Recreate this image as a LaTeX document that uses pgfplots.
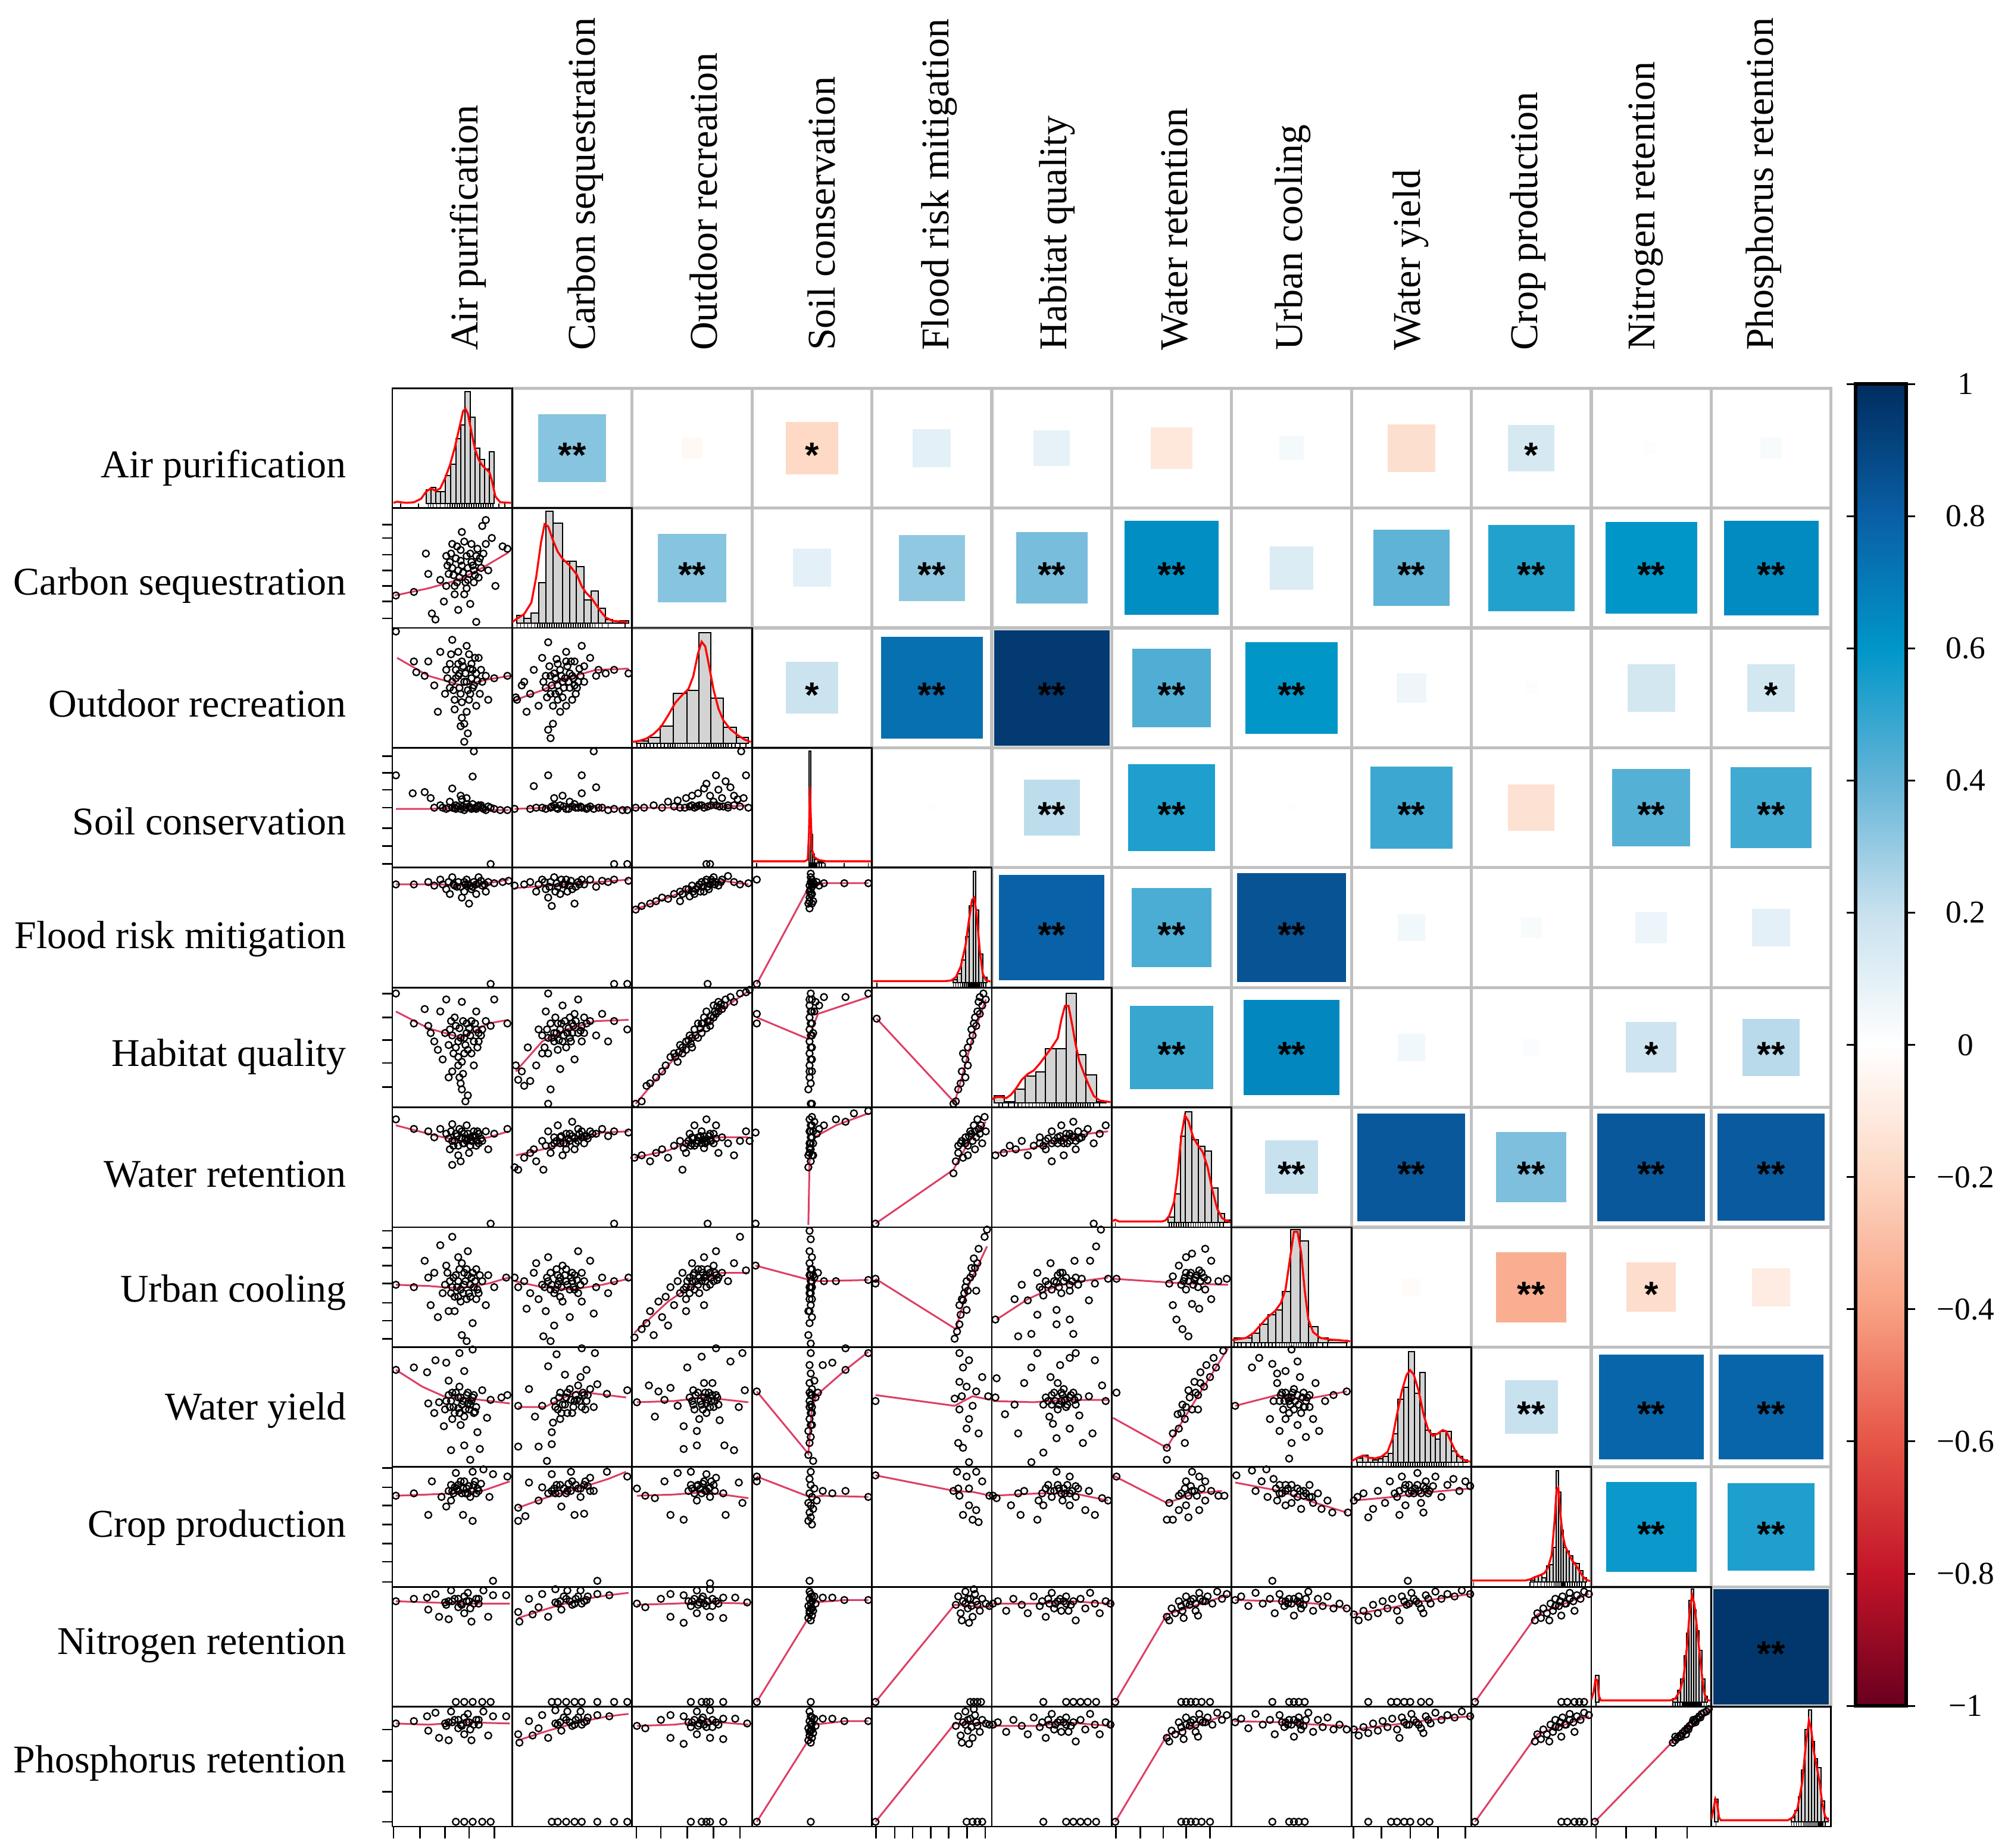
\documentclass[border=0pt]{standalone}
\usepackage{fontspec}
\setmainfont{Liberation Serif}
\newfontfamily\sansf{Liberation Sans}
\usepackage{pgfplots}
\pgfplotsset{compat=1.18}

\definecolor{cgray}{RGB}{192,192,192}
\definecolor{barfill}{RGB}{211,211,211}
\definecolor{lowesscol}{RGB}{222,62,100}
\def\cw{30.21pt}
\newcommand\labfont{\fontsize{9.9}{11}\selectfont}

\pgfplotsset{
  diag/.style={width=\cw,height=\cw,scale only axis,anchor=south west,
    xmin=0,xmax=100,ymin=-4,ymax=100,xtick=\empty,ytick=\empty,
    axis line style={line width=0.4pt}},
  hbar/.style={ybar interval,fill=barfill,draw=black,line width=0.3pt},
  dens/.style={red,line width=0.5pt,no marks},
  rug/.style={only marks,mark=|,mark size=0.6pt,line width=0.25pt,black},
  lowess/.style={lowesscol,line width=0.45pt,no marks},
}
\tikzset{
  frame/.style={black,line width=0.4pt},
  cgrid/.style={cgray,line width=0.8pt},
  tk/.style={black,line width=0.4pt},
}

% scatter panel: column, row, points (0-100 inside the panel)
\newcommand\sct[3]{\addplot[only marks,mark=o,mark size=0.85pt,line width=0.35pt,black]
  table[header=false,row sep=\\,x expr=\thisrowno{0}/100+#1-1,y expr=\thisrowno{1}/100+12-#2]{#3};}
\newcommand\lo[3]{\addplot[lowess]
  table[header=false,row sep=\\,x expr=\thisrowno{0}/100+#1-1,y expr=\thisrowno{1}/100+12-#2]{#3};}
\newcommand\diag[2]{\begin{axis}[diag,at={({(#1-1)*\cw},{(12-#1)*\cw})}]#2\end{axis}}

\begin{document}
\begin{tikzpicture}
\useasboundingbox (-98.85pt,-5.4pt) rectangle (407.1pt,460.35pt);
\begin{axis}[
  at={(0,0)}, anchor=south west,
  width=362.52pt, height=362.52pt, scale only axis,
  xmin=0, xmax=12, ymin=0, ymax=12,
  axis line style={draw=none}, xtick=\empty, ytick=\empty,
  clip=false,
  colormap={corr}{rgb255=(105,0,30) rgb255=(195,20,40) rgb255=(230,85,70)
    rgb255=(248,160,130) rgb255=(253,215,195) rgb255=(255,255,255)
    rgb255=(200,225,238) rgb255=(100,180,215) rgb255=(0,150,200)
    rgb255=(10,95,165) rgb255=(0,45,95)},
  point meta min=-1, point meta max=1,
  colorbar,
  colorbar shift/.style={xshift=6.15pt,yshift=1.05pt},
  colorbar style={
    at={(parent axis.north east)}, anchor=north west,
    scale only axis, width=12.75pt, height=333.15pt,
    ytick={-1,-0.8,-0.6,-0.4,-0.2,0,0.2,0.4,0.6,0.8,1},
    yticklabels={−1,−0.8,−0.6,−0.4,−0.2,0,0.2,0.4,0.6,0.8,1},
    yticklabel style={font=\fontsize{8}{9}\selectfont,anchor=center,xshift=12.75pt},
    tick align=outside, major tick length=2.25pt,
    ytick style={line width=0.45pt,black},
    axis line style={line width=0.9pt,black},
  },
]
% grey grid of the upper triangle
\draw[cgrid] (axis cs:1,12) -- (axis cs:12,12) -- (axis cs:12,1);
\pgfplotsinvokeforeach{1,...,11}{
  \draw[cgrid] (axis cs:#1,{12-#1}) -- (axis cs:12,{12-#1});
  \draw[cgrid] (axis cs:#1,12) -- (axis cs:#1,{12-#1});
}
% correlation squares
\addplot[scatter, only marks, mark=square*, scatter src=explicit,
  scatter/use mapped color={draw=mapped color,fill=mapped color},
  mark options={line width=0.2pt},
  visualization depends on={sqrt(abs(\thisrow{r}))*14.8 \as \msz},
  scatter/@pre marker code/.append style={/tikz/mark size=\msz}]
  table[row sep=\\, x expr=\thisrow{j}-0.5, y expr=12.5-\thisrow{i}, meta=r]{
i j r\\
1 2 0.33\\ 1 3 -0.03\\ 1 4 -0.19\\ 1 5 0.10\\ 1 6 0.09\\ 1 7 -0.12\\ 1 8 0.04\\ 1 9 -0.16\\ 1 10 0.15\\ 1 11 0.01\\ 1 12 0.03\\
2 3 0.33\\ 2 4 0.10\\ 2 5 0.31\\ 2 6 0.36\\ 2 7 0.63\\ 2 8 0.13\\ 2 9 0.41\\ 2 10 0.53\\ 2 11 0.60\\ 2 12 0.64\\
3 4 0.19\\ 3 5 0.74\\ 3 6 0.95\\ 3 7 0.44\\ 3 8 0.60\\ 3 9 0.06\\ 3 10 0.01\\ 3 11 0.16\\ 3 12 0.16\\
4 5 0.005\\ 4 6 0.22\\ 4 7 0.54\\ 4 8 0.005\\ 4 9 0.48\\ 4 10 -0.15\\ 4 11 0.43\\ 4 12 0.47\\
5 6 0.79\\ 5 7 0.45\\ 5 8 0.85\\ 5 9 0.05\\ 5 10 0.03\\ 5 11 0.07\\ 5 12 0.10\\
6 7 0.49\\ 6 8 0.65\\ 6 9 0.05\\ 6 10 0.02\\ 6 11 0.18\\ 6 12 0.23\\
7 8 0.20\\ 7 9 0.83\\ 7 10 0.35\\ 7 11 0.83\\ 7 12 0.82\\
8 9 -0.02\\ 8 10 -0.35\\ 8 11 -0.17\\ 8 12 -0.10\\
9 10 0.20\\ 9 11 0.78\\ 9 12 0.78\\
10 11 0.58\\ 10 12 0.54\\
11 12 0.96\\
};
% significance stars
\addplot[only marks, mark=none, nodes near coords, point meta=explicit symbolic,
  nodes near coords style={font=\sansf\bfseries\fontsize{9}{9}\selectfont,anchor=center,yshift=-1.8pt,inner sep=0pt,black}]
  table[row sep=\\, x expr=\thisrow{j}-0.5, y expr=12.5-\thisrow{i}, meta=s]{
i j s\\
1 2 **\\ 1 4 *\\ 1 10 *\\
2 3 **\\ 2 5 **\\ 2 6 **\\ 2 7 **\\ 2 9 **\\ 2 10 **\\ 2 11 **\\ 2 12 **\\
3 4 *\\ 3 5 **\\ 3 6 **\\ 3 7 **\\ 3 8 **\\ 3 12 *\\
4 6 **\\ 4 7 **\\ 4 9 **\\ 4 11 **\\ 4 12 **\\
5 6 **\\ 5 7 **\\ 5 8 **\\
6 7 **\\ 6 8 **\\ 6 11 *\\ 6 12 **\\
7 8 **\\ 7 9 **\\ 7 10 **\\ 7 11 **\\ 7 12 **\\
8 10 **\\ 8 11 *\\
9 10 **\\ 9 11 **\\ 9 12 **\\
10 11 **\\ 10 12 **\\
11 12 **\\
};

% ---- lower triangle scatter panels ----
\sct{1}{2}{3 27\\18 30\\28 62\\30 45\\33 12\\36 7\\40 40\\43 22\\45 60\\48 55\\50 70\\52 35\\55 48\\55 15\\58 80\\60 28\\62 60\\64 45\\65 20\\66 70\\68 38\\70 5\\72 55\\75 85\\78 90\\80 48\\83 75\\86 35\\92 68\\96 66\\47 45\\50 50\\53 58\\56 42\\58 52\\61 38\\63 50\\66 55\\68 48\\70 60\\72 42\\74 50\\57 65\\62 33\\52 28\\45 35\\46 52\\49 62\\51 44\\54 68\\57 56\\59 46\\60 72\\63 40\\65 62\\67 52\\69 44\\71 66\\73 58\\76 62\\78 70\\54 38\\}
\lo{1}{2}{2 27\\30 33\\55 40\\75 50\\97 63\\}

\sct{1}{3}{3 97\\18 72\\20 63\\27 60\\30 72\\35 52\\38 30\\40 80\\44 45\\45 65\\48 50\\50 90\\52 40\\55 70\\55 60\\57 18\\58 25\\60 55\\60 5\\62 85\\63 12\\65 45\\66 58\\67 65\\70 35\\72 75\\75 55\\78 60\\80 40\\85 58\\96 60\\50 55\\53 65\\56 50\\58 72\\61 62\\63 48\\66 70\\68 52\\70 62\\73 45\\58 38\\62 30\\55 80\\64 78\\48 70\\46 58\\49 78\\51 48\\53 58\\56 62\\57 45\\59 68\\62 55\\64 40\\65 66\\67 50\\69 75\\71 56\\74 65\\52 32\\60 20\\}
\lo{1}{3}{4 75\\30 60\\58 52\\80 57\\98 60\\}
\sct{2}{3}{3 42\\4 40\\8 52\\10 55\\12 30\\15 45\\18 65\\22 35\\25 75\\28 50\\30 88\\30 15\\32 60\\32 8\\34 20\\36 45\\38 70\\40 30\\42 55\\45 80\\45 35\\48 62\\50 40\\52 72\\55 55\\58 85\\60 68\\65 75\\70 60\\72 65\\78 62\\85 65\\97 62\\28 60\\32 45\\35 62\\38 52\\40 65\\42 42\\44 58\\46 68\\48 50\\50 60\\53 45\\56 66\\38 40\\45 72\\52 52\\26 55\\29 42\\31 68\\33 52\\36 58\\37 74\\39 47\\41 60\\43 50\\47 55\\49 72\\51 58\\54 50\\57 60\\60 55\\34 35\\}
\lo{2}{3}{3 40\\25 48\\45 58\\70 65\\97 66\\}

\sct{1}{4}{3 77\\17 62\\27 63\\32 58\\35 50\\40 52\\45 49\\48 55\\50 66\\52 50\\55 51\\57 60\\58 57\\60 48\\62 53\\62 58\\65 50\\67 76\\68 97\\70 49\\72 52\\75 50\\78 48\\82 50\\85 49\\90 48\\96 48\\82 3\\50 50\\53 52\\57 49\\64 51\\67 53\\69 50\\74 52\\42 50\\47 50\\53 49\\59 51\\61 50\\66 49\\71 51\\76 49\\80 51\\}
\lo{1}{4}{3 49\\30 49\\60 50\\80 48\\97 48\\}
\sct{2}{4}{2 49\\15 49\\18 68\\25 50\\30 77\\32 50\\35 58\\35 52\\40 52\\42 60\\45 49\\48 55\\50 51\\55 50\\58 77\\58 62\\62 49\\68 97\\70 67\\72 50\\75 50\\80 48\\85 49\\92 48\\96 48\\85 3\\96 3\\38 49\\43 51\\52 53\\58 50\\65 51\\20 50\\28 49\\33 51\\37 50\\47 49\\53 50\\57 51\\63 50\\68 49\\}
\lo{2}{4}{2 49\\30 50\\60 51\\97 49\\}
\sct{3}{4}{3 50\\10 50\\18 52\\30 55\\38 56\\40 50\\45 58\\50 60\\55 62\\58 52\\60 66\\62 70\\65 60\\68 55\\70 77\\72 65\\75 58\\78 72\\80 50\\82 67\\85 60\\88 57\\91 97\\93 58\\95 77\\97 50\\62 3\\65 3\\48 51\\52 50\\56 52\\63 51\\70 52\\76 51\\85 52\\25 50\\35 51\\44 50\\50 52\\54 51\\60 50\\66 52\\73 51\\80 52\\90 51\\}
\lo{3}{4}{0 50\\50 50\\80 51\\97 52\\}

\sct{1}{5}{3 86\\18 86\\30 88\\35 85\\40 90\\45 82\\48 78\\50 92\\52 85\\55 88\\58 75\\60 80\\62 90\\64 70\\65 85\\68 88\\70 78\\72 92\\75 85\\78 80\\80 88\\85 87\\92 88\\97 89\\82 3\\57 84\\61 86\\66 82\\70 86\\74 89\\42 86\\47 88\\51 86\\54 84\\60 88\\63 86\\67 84\\72 87\\77 86\\}
\lo{1}{5}{3 86\\40 86\\65 85\\80 87\\97 90\\}
\sct{2}{5}{2 85\\10 86\\15 88\\20 80\\25 90\\28 82\\30 75\\32 88\\33 68\\35 92\\38 84\\40 78\\45 90\\48 85\\50 82\\52 70\\55 88\\60 86\\65 90\\70 84\\75 89\\80 88\\85 90\\97 89\\85 3\\96 3\\36 80\\42 86\\46 80\\53 84\\58 90\\22 86\\27 88\\31 84\\37 87\\41 90\\44 86\\49 89\\56 86\\}
\lo{2}{5}{2 83\\30 85\\60 87\\97 90\\}
\sct{3}{5}{3 65\\8 68\\15 70\\20 72\\25 75\\30 74\\35 78\\40 80\\40 72\\45 82\\48 76\\50 85\\52 78\\55 84\\58 88\\60 80\\62 90\\65 86\\68 92\\70 88\\75 90\\80 93\\85 88\\90 86\\97 87\\63 3\\53 82\\57 80\\63 84\\67 88\\72 85\\42 78\\47 82\\51 80\\56 86\\59 84\\61 88\\64 82\\66 90\\69 86\\74 88\\}
\lo{3}{5}{2 65\\30 75\\55 85\\75 89\\97 86\\}
\sct{4}{5}{4 90\\4 3\\47 70\\48 75\\48 80\\48 85\\49 88\\49 92\\49 95\\48 66\\50 78\\50 84\\50 90\\51 72\\52 86\\54 88\\56 85\\60 87\\77 87\\97 87\\48 72\\49 78\\49 82\\50 86\\51 88\\50 70\\}
\lo{4}{5}{4 3\\48 85\\60 87\\97 87\\}

\sct{1}{6}{3 95\\18 70\\27 82\\30 68\\32 62\\35 55\\38 48\\40 80\\42 40\\45 90\\47 25\\48 65\\50 30\\52 75\\55 55\\55 42\\57 20\\58 88\\60 45\\61 5\\62 70\\63 10\\65 60\\68 35\\70 80\\72 55\\75 65\\78 72\\82 68\\85 90\\96 70\\50 60\\53 50\\56 66\\58 38\\60 58\\63 48\\66 72\\68 55\\70 65\\72 62\\55 35\\59 28\\62 62\\44 62\\47 52\\49 72\\51 45\\53 68\\57 58\\59 72\\61 52\\64 66\\66 45\\69 70\\71 50\\74 60\\56 25\\58 15\\}
\lo{1}{6}{3 80\\30 66\\58 58\\80 70\\97 73\\}
\sct{2}{6}{3 35\\5 23\\8 30\\10 18\\13 50\\15 22\\20 35\\22 65\\25 60\\28 80\\30 45\\30 95\\30 3\\32 15\\35 55\\38 70\\40 32\\42 85\\45 50\\48 75\\50 62\\52 40\\55 90\\58 68\\60 75\\65 72\\70 60\\75 78\\80 55\\85 72\\96 65\\30 58\\32 70\\35 62\\38 48\\40 65\\42 55\\44 72\\46 62\\48 58\\50 70\\52 78\\55 62\\58 55\\25 45\\27 50\\29 65\\33 58\\36 75\\37 62\\39 56\\41 70\\43 60\\47 66\\49 55\\51 68\\53 72\\57 64\\60 62\\62 70\\}
\lo{2}{6}{3 30\\25 55\\45 65\\70 72\\97 73\\}
\sct{3}{6}{3 3\\8 5\\12 18\\15 20\\20 25\\25 30\\28 35\\32 42\\35 45\\38 38\\40 52\\45 55\\45 48\\48 60\\50 50\\52 65\\55 70\\55 58\\58 62\\60 75\\62 80\\65 72\\65 68\\68 85\\70 78\\72 88\\75 82\\78 90\\82 92\\85 88\\90 95\\95 96\\98 98\\42 45\\50 58\\58 70\\62 66\\68 75\\72 80\\36 42\\39 46\\42 50\\47 56\\49 53\\53 60\\57 66\\59 70\\63 72\\66 76\\69 80\\71 84\\74 86\\77 85\\}
\lo{3}{6}{3 3\\30 35\\55 62\\75 82\\97 97\\}
\sct{4}{6}{4 78\\4 70\\47 15\\48 25\\48 35\\48 45\\48 55\\48 65\\48 75\\48 85\\49 95\\49 20\\49 40\\49 60\\49 80\\50 30\\50 50\\50 70\\50 90\\51 62\\52 80\\53 88\\56 85\\60 92\\78 92\\97 95\\49 3\\50 3\\48 30\\49 50\\49 70\\50 40\\50 60\\50 80\\48 90\\}
\lo{4}{6}{4 75\\47 57\\50 65\\55 78\\97 92\\}
\sct{5}{6}{4 74\\68 3\\70 5\\72 15\\74 20\\75 30\\76 45\\78 40\\78 25\\80 50\\80 35\\82 55\\83 65\\84 60\\85 70\\86 75\\87 68\\88 80\\89 88\\90 92\\90 78\\92 85\\93 95\\95 90\\}
\lo{5}{6}{4 74\\69 4\\75 25\\85 62\\95 90\\}

\sct{1}{7}{3 90\\18 82\\30 80\\35 75\\40 82\\45 78\\48 65\\50 86\\50 52\\52 72\\55 60\\57 55\\58 80\\60 70\\62 85\\64 62\\65 75\\68 80\\70 68\\72 78\\75 72\\78 80\\80 65\\85 78\\96 82\\82 3\\50 72\\53 78\\55 68\\58 74\\60 78\\62 72\\65 68\\67 76\\70 72\\72 70\\47 74\\49 80\\51 68\\54 76\\56 82\\59 70\\61 74\\63 78\\66 72\\69 76\\71 80\\74 74\\}
\lo{1}{7}{3 85\\30 78\\55 72\\80 75\\97 80\\}
\sct{2}{7}{2 50\\5 48\\10 58\\15 62\\18 65\\20 55\\25 72\\26 48\\28 68\\30 80\\32 62\\35 75\\38 85\\40 70\\42 60\\45 78\\48 72\\50 88\\52 65\\55 82\\58 75\\60 70\\65 80\\70 78\\75 82\\80 76\\85 80\\97 79\\85 3\\35 70\\40 75\\45 70\\48 78\\52 74\\55 72\\58 80\\62 76\\45 65\\33 68\\37 72\\41 76\\43 70\\47 74\\50 76\\53 70\\56 78\\60 76\\63 74\\67 78\\}
\lo{2}{7}{3 60\\30 66\\55 74\\75 79\\97 80\\}
\sct{3}{7}{2 58\\8 60\\15 55\\20 62\\25 65\\30 58\\35 68\\40 72\\42 48\\45 62\\48 78\\50 70\\52 85\\55 75\\58 80\\60 66\\62 90\\65 72\\68 78\\70 85\\72 62\\75 75\\80 70\\85 60\\90 72\\95 80\\98 72\\63 3\\45 70\\50 75\\52 68\\55 72\\58 70\\60 76\\62 72\\65 78\\68 70\\43 66\\47 72\\49 68\\51 74\\54 70\\57 76\\59 73\\61 70\\64 76\\66 72\\70 74\\}
\lo{3}{7}{2 58\\30 64\\55 74\\75 75\\97 75\\}
\sct{4}{7}{3 79\\3 3\\47 50\\47 60\\48 70\\48 80\\48 90\\49 55\\49 65\\49 75\\49 85\\50 92\\50 60\\51 70\\51 80\\52 88\\54 78\\56 82\\60 85\\70 90\\78 88\\85 95\\97 97\\48 62\\48 66\\49 70\\49 80\\50 75\\50 85\\51 60\\}
\lo{4}{7}{47 2\\48 55\\52 75\\70 85\\97 95\\}
\sct{5}{7}{3 3\\68 45\\70 55\\72 62\\74 70\\76 58\\78 75\\80 68\\80 60\\82 80\\84 72\\85 85\\86 65\\87 75\\88 90\\90 78\\91 85\\92 70\\94 92\\95 80\\72 68\\75 72\\78 70\\81 76\\83 78\\86 80\\89 82\\}
\lo{5}{7}{3 3\\68 48\\80 70\\95 88\\}
\sct{6}{7}{3 60\\10 62\\15 68\\20 65\\25 72\\30 60\\35 68\\40 75\\45 65\\50 80\\50 55\\55 70\\58 85\\60 60\\62 78\\65 72\\68 88\\70 65\\72 80\\75 75\\80 82\\85 70\\90 78\\95 85\\85 3\\45 72\\50 70\\55 75\\58 72\\60 70\\65 78\\68 75\\70 72\\40 70\\43 68\\47 74\\52 72\\57 76\\61 74\\63 70\\67 76\\73 74\\77 78\\}
\lo{6}{7}{3 62\\30 65\\55 72\\80 78\\97 80\\}

\sct{1}{8}{3 52\\18 50\\27 72\\30 58\\32 35\\35 62\\38 25\\40 85\\42 45\\45 68\\47 30\\48 55\\50 92\\52 30\\55 75\\55 42\\57 48\\58 10\\60 62\\62 40\\62 5\\63 80\\65 52\\67 20\\70 65\\72 45\\75 55\\78 35\\80 60\\85 50\\95 58\\50 50\\53 60\\55 55\\57 38\\60 52\\62 65\\64 45\\66 58\\68 50\\70 40\\58 70\\52 42\\44 52\\46 62\\49 45\\51 58\\54 50\\56 65\\59 45\\61 55\\63 60\\65 42\\67 62\\69 55\\71 48\\73 60\\}
\lo{1}{8}{3 52\\30 51\\55 49\\80 53\\97 58\\}
\sct{2}{8}{2 58\\5 50\\10 55\\12 32\\15 45\\18 62\\20 70\\22 40\\25 52\\26 9\\28 30\\30 75\\32 48\\32 5\\35 18\\38 60\\40 42\\42 68\\45 55\\48 25\\50 62\\52 48\\55 80\\58 38\\60 55\\65 72\\68 28\\70 50\\75 58\\80 45\\85 55\\97 58\\30 55\\32 62\\35 45\\38 52\\40 58\\42 38\\45 65\\48 48\\50 55\\52 60\\55 45\\58 62\\27 50\\29 58\\33 52\\36 48\\37 65\\39 55\\41 50\\44 60\\46 52\\49 58\\51 50\\54 56\\57 52\\}
\lo{2}{8}{2 55\\25 50\\50 48\\75 52\\97 57\\}
\sct{3}{8}{2 8\\8 15\\12 20\\15 30\\18 10\\22 38\\25 25\\28 42\\30 18\\32 50\\35 35\\38 55\\40 45\\42 62\\45 40\\45 30\\48 58\\50 70\\52 48\\55 65\\58 55\\60 75\\60 35\\62 60\\65 52\\68 68\\70 80\\72 58\\75 62\\80 55\\85 70\\90 92\\95 64\\45 50\\48 45\\50 55\\52 62\\55 52\\58 65\\60 58\\62 50\\65 62\\68 55\\70 60\\56 45\\43 48\\46 55\\49 50\\51 60\\53 55\\56 58\\59 62\\61 55\\63 65\\66 58\\69 62\\71 56\\}
\lo{3}{8}{2 12\\30 38\\55 55\\75 62\\97 62\\}
\sct{4}{8}{3 68\\47 10\\47 30\\48 20\\48 40\\48 50\\48 60\\48 70\\48 80\\48 97\\49 35\\49 45\\49 55\\49 65\\49 90\\49 3\\50 25\\50 50\\50 75\\51 60\\52 58\\55 62\\60 55\\70 55\\97 56\\48 30\\48 45\\49 50\\49 60\\50 40\\50 55\\50 65\\}
\lo{4}{8}{3 68\\48 56\\55 55\\97 56\\}
\sct{5}{8}{3 57\\3 53\\69 7\\71 13\\73 19\\73 35\\74 27\\76 39\\79 31\\79 55\\80 47\\83 66\\84 61\\85 74\\87 47\\88 70\\89 82\\94 92\\96 98\\75 40\\77 45\\78 50\\82 58\\86 66\\}
\lo{5}{8}{3 57\\70 15\\80 50\\96 84\\}
\sct{6}{8}{3 23\\19 40\\22 9\\25 52\\30 39\\33 11\\38 62\\38 27\\43 43\\49 70\\54 31\\54 19\\54 54\\59 62\\65 23\\65 47\\68 11\\69 72\\75 57\\81 39\\82 72\\86 53\\87 84\\91 98\\97 57\\40 50\\45 55\\50 48\\55 60\\58 45\\60 55\\65 52\\70 58\\42 48\\47 52\\52 55\\56 50\\62 58\\67 55\\72 52\\57 62\\}
\lo{6}{8}{4 23\\30 40\\54 51\\75 55\\97 58\\}
\sct{7}{8}{4 57\\48 53\\51 35\\51 59\\54 23\\56 68\\59 15\\62 75\\62 48\\64 9\\67 78\\67 36\\73 64\\73 32\\78 82\\78 48\\83 72\\83 40\\89 55\\96 57\\60 55\\65 60\\68 52\\70 58\\72 50\\75 62\\62 62\\58 52\\61 58\\64 55\\66 62\\69 56\\71 60\\74 55\\77 58\\80 56\\}
\lo{7}{8}{1 57\\62 53\\97 52\\}

\sct{1}{9}{3 81\\18 83\\29 79\\30 53\\35 45\\36 89\\39 54\\43 34\\45 87\\47 72\\49 14\\50 40\\55 49\\56 95\\56 67\\60 80\\60 18\\63 53\\65 6\\67 98\\68 45\\71 29\\73 15\\75 64\\79 41\\82 56\\91 58\\96 60\\45 55\\48 50\\50 62\\52 45\\55 58\\58 52\\60 42\\62 60\\64 48\\66 55\\68 60\\70 50\\57 35\\44 48\\47 60\\49 55\\51 50\\53 62\\56 45\\57 58\\59 55\\61 48\\63 62\\65 52\\67 58\\69 46\\}
\lo{1}{9}{3 81\\25 67\\45 58\\65 57\\98 53\\}
\sct{2}{9}{5 51\\5 17\\14 65\\19 42\\22 17\\25 51\\29 5\\30 84\\33 19\\33 29\\34 37\\37 94\\44 77\\46 45\\54 56\\57 75\\58 99\\62 81\\68 50\\69 95\\71 69\\79 61\\96 64\\35 55\\38 48\\40 62\\42 52\\45 58\\48 65\\50 45\\52 55\\55 68\\58 50\\60 60\\62 55\\40 40\\65 65\\36 50\\39 58\\41 45\\44 52\\46 62\\49 56\\51 50\\53 60\\56 55\\59 62\\61 48\\63 60\\}
\lo{2}{9}{5 50\\27 50\\54 63\\95 58\\}
\sct{3}{9}{4 54\\14 68\\19 42\\22 63\\27 56\\32 66\\38 51\\43 34\\43 15\\46 83\\51 64\\54 30\\54 18\\58 92\\62 53\\67 70\\70 99\\73 39\\77 18\\82 88\\85 14\\89 50\\92 95\\94 64\\50 55\\52 48\\55 62\\58 52\\60 58\\62 45\\64 62\\66 55\\68 50\\70 60\\72 52\\56 40\\60 70\\48 58\\51 52\\53 60\\57 55\\59 48\\61 62\\63 56\\65 50\\67 60\\69 55\\71 58\\}
\lo{3}{9}{4 54\\35 55\\61 58\\97 54\\}
\sct{4}{9}{4 63\\47 10\\47 30\\48 20\\48 40\\48 55\\48 70\\48 85\\49 25\\49 45\\49 60\\49 78\\49 95\\50 35\\50 50\\50 65\\51 5\\52 72\\53 58\\55 62\\59 85\\67 87\\78 99\\78 81\\97 95\\48 50\\49 35\\49 52\\50 60\\48 62\\50 45\\}
\lo{4}{9}{4 63\\47 11\\50 50\\54 60\\78 81\\97 96\\}
\sct{5}{9}{3 55\\69 57\\72 20\\73 95\\73 71\\73 48\\75 59\\76 83\\76 16\\79 67\\79 32\\81 89\\81 40\\81 4\\84 51\\87 63\\89 28\\92 75\\97 59\\}
\lo{5}{9}{3 60\\69 51\\84 59\\99 56\\}
\sct{6}{9}{3 58\\4 74\\11 44\\19 52\\22 28\\27 70\\33 83\\33 4\\38 95\\43 52\\43 12\\49 75\\51 36\\54 24\\57 85\\59 60\\65 91\\65 32\\70 95\\73 43\\76 20\\81 59\\84 28\\86 89\\92 68\\95 55\\45 58\\50 52\\52 62\\55 48\\58 55\\60 65\\62 50\\65 58\\68 62\\70 52\\55 70\\48 42\\47 55\\50 60\\53 55\\56 52\\58 62\\61 56\\63 52\\66 60\\69 56\\72 58\\}
\lo{6}{9}{1 55\\35 54\\60 56\\97 56\\}
\sct{7}{9}{4 62\\46 16\\46 6\\51 28\\55 44\\56 32\\59 52\\61 40\\61 20\\64 64\\67 48\\69 71\\72 60\\72 48\\74 79\\77 67\\79 85\\82 75\\85 91\\87 83\\93 97\\58 45\\62 50\\65 58\\70 62\\74 70\\}
\lo{7}{9}{1 41\\46 16\\60 40\\80 72\\97 99\\}
\sct{8}{9}{3 51\\17 83\\23 91\\32 40\\34 86\\35 55\\38 70\\38 78\\40 30\\42 62\\45 80\\48 45\\48 7\\50 98\\50 20\\52 65\\55 35\\55 88\\57 75\\60 50\\62 25\\65 60\\68 40\\70 70\\73 30\\78 55\\85 60\\96 63\\40 55\\43 48\\45 62\\48 55\\50 58\\52 48\\55 60\\58 45\\60 62\\62 55\\65 50\\45 40\\41 60\\44 55\\47 58\\49 52\\51 62\\53 55\\56 52\\59 58\\61 50\\63 58\\}
\lo{8}{9}{3 51\\38 60\\59 56\\96 63\\}

\sct{1}{10}{3 76\\18 78\\30 60\\33 88\\41 75\\45 67\\49 72\\52 83\\53 95\\55 80\\59 60\\63 78\\67 96\\67 55\\72 80\\76 98\\81 75\\84 94\\96 92\\84 5\\50 80\\55 85\\58 78\\60 88\\62 82\\65 75\\68 85\\70 78\\47 80\\49 85\\51 78\\54 82\\57 88\\59 82\\61 78\\64 84\\66 80\\69 88\\71 82\\74 86\\}
\lo{1}{10}{3 76\\30 77\\50 78\\75 80\\98 88\\}
\sct{2}{10}{5 55\\5 66\\11 59\\14 87\\22 72\\25 83\\30 78\\33 94\\36 78\\41 67\\46 80\\49 96\\52 60\\57 75\\60 61\\65 91\\68 80\\79 96\\96 92\\71 5\\35 82\\40 85\\45 78\\50 88\\55 82\\60 85\\65 80\\33 80\\37 85\\39 78\\43 82\\47 86\\49 80\\53 85\\57 82\\61 88\\63 84\\}
\lo{2}{10}{5 66\\30 75\\55 82\\80 90\\95 96\\}
\sct{3}{10}{4 82\\11 76\\19 74\\27 88\\32 60\\38 95\\43 56\\49 96\\54 72\\62 94\\65 83\\70 91\\76 78\\78 60\\89 87\\92 70\\65 3\\50 82\\55 85\\58 78\\60 88\\62 80\\65 75\\68 85\\47 80\\49 85\\52 78\\54 84\\57 82\\59 86\\61 80\\64 82\\66 88\\69 80\\}
\lo{3}{10}{4 76\\35 77\\61 79\\97 74\\}
\sct{4}{10}{4 92\\4 88\\47 55\\47 70\\48 62\\48 78\\48 90\\49 58\\49 68\\49 85\\49 96\\50 52\\50 75\\51 65\\52 82\\54 72\\59 80\\67 78\\78 80\\97 75\\48 5\\}
\lo{4}{10}{4 92\\48 75\\60 76\\97 75\\}
\sct{5}{10}{3 93\\68 80\\71 96\\72 82\\73 76\\76 60\\79 92\\81 82\\81 68\\84 56\\87 96\\87 64\\89 54\\92 88\\98 76\\}
\lo{5}{10}{3 93\\69 80\\85 79\\99 76\\}
\sct{6}{10}{1 76\\4 74\\16 68\\22 78\\24 60\\27 80\\38 56\\39 72\\43 68\\49 80\\54 96\\59 72\\65 92\\65 68\\70 84\\78 64\\81 80\\86 60\\92 74\\97 72\\45 82\\50 75\\55 85\\58 78\\60 82\\65 78\\70 75\\42 78\\47 85\\52 80\\56 82\\61 78\\63 85\\67 80\\72 82\\}
\lo{6}{10}{1 76\\40 78\\68 78\\97 72\\}
\sct{7}{10}{4 92\\46 56\\48 70\\51 56\\56 76\\56 64\\62 88\\62 68\\64 58\\67 96\\67 80\\73 92\\73 64\\78 88\\78 72\\83 80\\89 76\\94 76\\58 78\\61 82\\64 76\\66 84\\69 80\\71 76\\75 82\\}
\lo{7}{10}{1 93\\46 70\\70 78\\92 80\\}
\sct{8}{10}{4 93\\17 97\\20 80\\25 88\\29 98\\30 75\\34 5\\35 90\\38 72\\40 78\\45 85\\45 68\\50 70\\55 82\\58 65\\60 76\\65 85\\68 70\\72 78\\75 65\\80 72\\84 62\\97 62\\40 85\\45 80\\50 85\\55 75\\60 80\\65 75\\37 82\\42 78\\47 82\\52 78\\57 80\\62 78\\67 75\\}
\lo{8}{10}{3 87\\40 80\\70 70\\96 62\\}
\sct{9}{10}{2 72\\5 75\\10 78\\14 58\\18 65\\22 80\\28 70\\32 88\\38 75\\40 60\\42 92\\45 68\\47 5\\48 85\\52 78\\55 95\\58 70\\60 62\\62 88\\65 80\\70 92\\75 75\\80 85\\85 90\\90 80\\95 88\\99 84\\40 80\\45 85\\50 80\\55 85\\58 78\\62 82\\36 78\\44 82\\48 78\\53 82\\56 80\\60 84\\64 78\\68 84\\}
\lo{9}{10}{2 72\\35 75\\65 79\\99 82\\}

\sct{1}{11}{3 88\\18 90\\29 91\\30 81\\36 94\\39 75\\44 87\\47 73\\49 97\\55 83\\60 78\\63 95\\66 71\\72 86\\76 97\\80 75\\84 93\\95 93\\53 4\\60 4\\67 4\\75 4\\82 4\\45 85\\50 88\\55 90\\58 85\\62 88\\65 82\\70 90\\47 88\\52 90\\57 86\\60 92\\64 88\\68 86\\72 90\\}
\lo{1}{11}{3 88\\30 87\\60 86\\98 86\\}
\sct{2}{11}{5 79\\6 71\\14 90\\17 77\\22 83\\25 94\\30 75\\36 98\\36 87\\41 81\\46 97\\52 86\\57 97\\62 89\\71 94\\81 93\\33 4\\38 4\\45 4\\52 4\\58 4\\71 4\\85 4\\96 4\\40 88\\45 90\\50 85\\55 92\\60 88\\38 86\\43 92\\48 88\\53 90\\58 86\\63 92\\}
\lo{2}{11}{5 74\\30 82\\55 89\\80 93\\97 95\\}
\sct{3}{11}{4 86\\11 83\\24 90\\32 94\\32 75\\43 93\\43 70\\49 84\\54 97\\54 78\\65 98\\65 75\\67 84\\76 91\\76 74\\86 91\\96 87\\49 4\\58 4\\62 4\\65 4\\76 4\\50 88\\55 85\\58 90\\60 86\\62 84\\70 88\\47 88\\52 90\\56 87\\59 92\\63 88\\67 90\\72 86\\}
\lo{3}{11}{4 85\\35 86\\61 87\\97 86\\}
\sct{4}{11}{4 4\\47 74\\47 84\\48 78\\48 90\\48 96\\49 72\\49 82\\49 94\\50 76\\50 88\\51 80\\52 92\\53 86\\59 91\\67 91\\77 89\\97 89\\49 4\\48 80\\49 86\\50 82\\50 92\\}
\lo{4}{11}{4 4\\47 74\\51 87\\78 89\\97 89\\}
\sct{5}{11}{3 4\\70 85\\72 92\\74 78\\75 72\\76 88\\78 96\\80 82\\81 70\\82 90\\84 75\\85 98\\86 94\\88 85\\90 80\\92 90\\95 86\\98 84\\82 4\\85 4\\88 4\\91 4\\78 86\\80 90\\83 84\\87 88\\}
\lo{5}{11}{3 4\\69 85\\99 83\\}
\sct{6}{11}{1 86\\5 88\\12 80\\18 90\\25 85\\30 78\\35 92\\40 84\\45 75\\50 95\\55 88\\58 80\\62 92\\66 85\\70 72\\74 90\\78 82\\82 95\\86 86\\90 78\\95 88\\99 86\\43 4\\62 4\\68 4\\74 4\\80 4\\87 4\\48 86\\52 82\\60 88\\64 80\\42 88\\47 90\\53 86\\57 90\\62 86\\68 88\\}
\lo{6}{11}{1 86\\40 86\\65 88\\99 86\\}
\sct{7}{11}{3 4\\46 75\\48 72\\50 82\\53 78\\56 88\\59 80\\60 74\\62 92\\65 85\\68 90\\70 80\\72 76\\73 95\\76 88\\80 92\\84 86\\88 96\\92 90\\96 94\\58 4\\62 4\\66 4\\70 4\\75 4\\82 4\\58 84\\62 86\\66 88\\70 86\\74 90\\78 88\\}
\lo{7}{11}{3 4\\46 77\\97 93\\}
\sct{8}{11}{3 89\\8 92\\14 84\\20 95\\26 86\\32 90\\36 78\\40 94\\44 84\\48 90\\52 76\\56 92\\60 85\\64 96\\68 80\\72 90\\76 84\\80 92\\85 82\\90 86\\96 82\\34 4\\48 4\\52 4\\56 4\\61 4\\45 88\\50 86\\55 88\\58 82\\42 88\\47 86\\52 90\\57 86\\62 90\\}
\lo{8}{11}{3 89\\40 88\\70 86\\96 82\\}
\sct{9}{11}{2 77\\6 72\\10 80\\14 75\\18 85\\22 78\\26 88\\30 82\\34 90\\38 80\\40 72\\42 92\\46 85\\50 95\\54 88\\58 82\\60 78\\62 93\\66 86\\70 96\\75 90\\80 94\\86 92\\92 97\\99 94\\14 4\\33 4\\38 4\\44 4\\49 4\\58 4\\65 4\\44 88\\48 86\\52 90\\56 86\\64 90\\}
\lo{9}{11}{2 77\\35 83\\65 89\\99 94\\}
\sct{10}{11}{3 4\\53 72\\55 78\\58 74\\60 82\\63 78\\65 72\\66 86\\68 80\\70 90\\73 84\\75 76\\76 92\\79 86\\82 95\\85 88\\86 80\\88 93\\91 90\\94 96\\98 94\\75 4\\80 4\\86 4\\90 4\\94 4\\70 84\\74 88\\78 86\\82 90\\}
\lo{10}{11}{3 4\\55 77\\98 94\\}

\sct{1}{12}{3 86\\18 88\\29 92\\30 80\\36 95\\39 74\\44 86\\47 72\\49 96\\55 82\\60 77\\63 94\\66 72\\72 85\\76 96\\80 76\\84 92\\95 92\\53 4\\60 4\\67 4\\75 4\\82 4\\45 84\\50 87\\55 89\\58 84\\62 87\\65 81\\70 89\\47 87\\52 89\\57 85\\60 91\\64 87\\68 85\\72 89\\}
\lo{1}{12}{3 86\\30 85\\60 87\\98 86\\}
\sct{2}{12}{5 77\\6 70\\14 88\\17 76\\22 82\\25 93\\30 74\\36 97\\36 86\\41 80\\46 96\\52 85\\57 96\\62 88\\71 93\\81 92\\33 4\\38 4\\45 4\\52 4\\58 4\\71 4\\85 4\\96 4\\40 87\\45 89\\50 84\\55 91\\60 87\\38 85\\43 91\\48 87\\53 89\\58 85\\63 91\\}
\lo{2}{12}{5 72\\30 80\\55 87\\80 92\\97 94\\}
\sct{3}{12}{4 84\\11 82\\24 89\\32 93\\32 74\\43 92\\43 69\\49 83\\54 96\\54 77\\65 97\\65 74\\67 83\\76 90\\76 73\\86 90\\96 86\\49 4\\58 4\\62 4\\65 4\\76 4\\50 87\\55 84\\58 89\\60 85\\62 83\\70 87\\47 87\\52 89\\56 86\\59 91\\63 87\\67 89\\72 85\\}
\lo{3}{12}{4 84\\35 85\\61 88\\97 85\\}
\sct{4}{12}{4 4\\47 72\\47 82\\48 76\\48 88\\48 96\\49 70\\49 80\\49 92\\50 74\\50 86\\51 78\\52 90\\53 84\\59 90\\67 90\\77 88\\97 88\\49 4\\48 79\\49 85\\50 81\\50 91\\}
\lo{4}{12}{4 4\\47 72\\51 85\\78 88\\97 88\\}
\sct{5}{12}{3 4\\70 84\\72 92\\74 76\\75 70\\76 87\\78 96\\80 80\\81 69\\82 90\\84 74\\85 98\\86 93\\88 84\\90 79\\92 89\\95 86\\98 85\\79 4\\84 4\\88 4\\92 4\\78 85\\80 89\\83 83\\87 87\\}
\lo{5}{12}{3 4\\69 86\\95 86\\}
\sct{6}{12}{1 85\\5 87\\12 79\\18 89\\25 84\\30 77\\35 91\\40 83\\45 74\\50 94\\55 87\\58 79\\62 91\\66 84\\70 71\\74 89\\78 81\\82 94\\86 85\\90 77\\95 87\\99 85\\43 4\\62 4\\68 4\\74 4\\80 4\\87 4\\48 85\\52 81\\60 87\\64 79\\42 87\\47 89\\53 85\\57 89\\62 85\\68 87\\}
\lo{6}{12}{1 84\\40 84\\60 87\\99 84\\}
\sct{7}{12}{3 4\\46 74\\48 71\\50 80\\53 77\\56 87\\59 79\\60 73\\62 91\\65 84\\68 89\\70 79\\72 75\\73 94\\76 87\\80 91\\84 85\\88 95\\92 89\\96 93\\58 4\\62 4\\66 4\\70 4\\75 4\\82 4\\58 83\\62 85\\66 87\\70 85\\74 89\\78 87\\}
\lo{7}{12}{3 4\\46 76\\92 92\\}
\sct{8}{12}{3 87\\8 90\\14 82\\20 94\\26 85\\32 89\\36 77\\40 93\\44 83\\48 89\\52 75\\56 91\\60 84\\64 95\\68 79\\72 89\\76 83\\80 91\\85 81\\90 85\\96 81\\34 4\\48 4\\52 4\\56 4\\61 4\\45 87\\50 85\\55 87\\58 81\\42 87\\47 85\\52 89\\57 85\\62 89\\}
\lo{8}{12}{2 88\\40 87\\70 85\\96 84\\}
\sct{9}{12}{2 81\\6 76\\10 83\\14 78\\18 86\\22 80\\26 88\\30 83\\34 90\\38 81\\40 74\\42 91\\46 85\\50 94\\54 87\\58 82\\60 78\\62 92\\66 86\\70 95\\75 89\\80 93\\86 91\\92 96\\99 92\\14 4\\33 4\\38 4\\44 4\\49 4\\58 4\\65 4\\44 87\\48 85\\52 89\\56 85\\64 89\\}
\lo{9}{12}{2 81\\35 85\\65 89\\99 92\\}
\sct{10}{12}{3 4\\53 71\\55 77\\58 73\\60 81\\63 77\\65 71\\66 85\\68 79\\70 89\\73 83\\75 75\\76 91\\79 85\\82 94\\85 87\\86 79\\88 92\\91 89\\94 95\\98 93\\75 4\\80 4\\86 4\\90 4\\94 4\\70 83\\74 87\\78 85\\82 89\\}
\lo{10}{12}{3 4\\55 77\\98 92\\}
\sct{11}{12}{3 4\\68 70\\70 72\\70 75\\72 74\\74 76\\75 75\\76 78\\78 80\\79 77\\80 82\\81 81\\82 84\\84 86\\85 89\\86 88\\87 87\\88 90\\90 92\\91 91\\92 94\\94 95\\96 96\\98 98\\}
\lo{11}{12}{3 4\\68 71\\99 98\\}

% black frames of the pairs panels
\draw[frame] (axis cs:0,0) -- (axis cs:12,0) -- (axis cs:12,1);
\draw[frame] (axis cs:0,0) -- (axis cs:0,12) -- (axis cs:1,12);
\pgfplotsinvokeforeach{1,...,11}{
  \draw[frame] (axis cs:0,{12-#1}) -- (axis cs:{#1+1},{12-#1});
  \draw[frame] (axis cs:#1,0) -- (axis cs:#1,{13-#1});
}
% outer ticks
\pgfplotsinvokeforeach{8,22,35,48,61,75,86}{\draw[tk] (axis cs:0,{10+#1/100}) -- ++(-2.6pt,0);}
\pgfplotsinvokeforeach{3,18,33,50,65,79,93}{\draw[tk] (axis cs:0,{8+#1/100}) -- ++(-2.6pt,0);}
\pgfplotsinvokeforeach{17,37,56,75,95}{\draw[tk] (axis cs:0,{6+#1/100}) -- ++(-2.6pt,0);}
\pgfplotsinvokeforeach{7,22,37,53,68,83,97}{\draw[tk] (axis cs:0,{4+#1/100}) -- ++(-2.6pt,0);}
\pgfplotsinvokeforeach{4,21,36,52,68,83,99}{\draw[tk] (axis cs:0,{2+#1/100}) -- ++(-2.6pt,0);}
\pgfplotsinvokeforeach{4,29,55,81}{\draw[tk] (axis cs:0,{#1/100}) -- ++(-2.6pt,0);}
\pgfplotsinvokeforeach{1,23,44,64,85}{\draw[tk] (axis cs:{#1/100},0) -- ++(0,-3pt);}
\pgfplotsinvokeforeach{3.5,24,46,68,90}{\draw[tk] (axis cs:{2+#1/100},0) -- ++(0,-3pt);}
\pgfplotsinvokeforeach{3.5,19,34,49,64,79.5,94.5}{\draw[tk] (axis cs:{4+#1/100},0) -- ++(0,-3pt);}
\pgfplotsinvokeforeach{3.5,24,43,62,82}{\draw[tk] (axis cs:{6+#1/100},0) -- ++(0,-3pt);}
\pgfplotsinvokeforeach{1.5,25,49,72,95}{\draw[tk] (axis cs:{8+#1/100},0) -- ++(0,-3pt);}
\pgfplotsinvokeforeach{4,29,54,80}{\draw[tk] (axis cs:{10+#1/100},0) -- ++(0,-3pt);}

% row labels
\begin{scope}[every node/.style={anchor=east,font=\labfont,inner sep=0pt}]
\node at (axis cs:-0.377,11.335) {Air purification};
\node at (axis cs:-0.377,10.352) {Carbon sequestration};
\node at (axis cs:-0.377,9.370) {Outdoor recreation};
\node at (axis cs:-0.377,8.387) {Soil conservation};
\node at (axis cs:-0.377,7.405) {Flood risk mitigation};
\node at (axis cs:-0.377,6.422) {Habitat quality};
\node at (axis cs:-0.377,5.439) {Water retention};
\node at (axis cs:-0.377,4.457) {Urban cooling};
\node at (axis cs:-0.377,3.474) {Water yield};
\node at (axis cs:-0.377,2.492) {Crop production};
\node at (axis cs:-0.377,1.509) {Nitrogen retention};
\node at (axis cs:-0.377,0.526) {Phosphorus retention};
\end{scope}
% column labels
\begin{scope}[every node/.style={rotate=90,anchor=west,font=\labfont,inner sep=0pt}]
\node at (axis cs:0.631,12.308) {Air purification};
\node at (axis cs:1.614,12.308) {Carbon sequestration};
\node at (axis cs:2.596,12.308) {Outdoor recreation};
\node at (axis cs:3.579,12.308) {Soil conservation};
\node at (axis cs:4.561,12.308) {Flood risk mitigation};
\node at (axis cs:5.544,12.308) {Habitat quality};
\node at (axis cs:6.527,12.308) {Water retention};
\node at (axis cs:7.509,12.308) {Urban cooling};
\node at (axis cs:8.492,12.308) {Water yield};
\node at (axis cs:9.474,12.308) {Crop production};
\node at (axis cs:10.457,12.308) {Nitrogen retention};
\node at (axis cs:11.440,12.308) {Phosphorus retention};
\end{scope}
\end{axis}

% ---- diagonal histograms ----
\diag{1}{
\addplot[hbar] coordinates {(28.4,12)(32.4,14)(36.4,10)(40.4,10)(44.3,24)(48.9,34)(52.9,56)(56.9,68)(60.8,97)(65.2,75)(69.2,48)(73.2,38)(77.1,30)(81.1,45)(85.1,0)};
\addplot[dens] coordinates {(1,0.5)(4,1.5)(7,1)(12,0.5)(18,1)(24,4)(28,10)(32,13)(36,11)(40,13)(44,22)(48,33)(52,48)(56,66)(59,80)(61,82)(63,78)(66,62)(69,47)(72,38)(75,33)(78,30)(81,27)(83,20)(86,6)(90,1)(99,0.5)};
\addplot[rug] table[header=false,row sep=\\,x index=0,y expr=-2]{7\\22\\30\\32\\34\\37\\40\\44\\46\\48\\50\\52\\54\\56\\58\\60\\62\\64\\66\\68\\70\\72\\74\\76\\78\\80\\82\\84\\89\\94\\};
}
\diag{2}{
\addplot[hbar] coordinates {(3.6,7)(9.6,4)(15.7,9)(22.1,35)(28.1,97)(34.1,87)(41.8,54)(47.8,54)(53.4,49)(59.8,20)(65.9,28)(71.9,13)(77.9,3)(83.9,0)(89.9,2)(97,0)};
\addplot[dens] coordinates {(0,1)(4,4)(10,8)(16,18)(20,40)(24,70)(27,86)(30,84)(34,72)(38,62)(42,56)(48,50)(54,42)(58,32)(62,26)(66,22)(70,16)(74,10)(78,5)(84,2)(90,1.5)(96,1)};
\addplot[rug] table[header=false,row sep=\\,x index=0,y expr=-2]{4\\7\\10\\13\\16\\19\\21\\23\\25\\27\\29\\31\\33\\35\\37\\39\\41\\43\\45\\47\\49\\51\\53\\55\\57\\59\\61\\63\\65\\67\\69\\72\\75\\80\\94\\};
}
\diag{3}{
\addplot[hbar] coordinates {(3.5,2)(13.5,5)(23.5,15)(34.6,43)(45.7,46)(55.7,96)(65.8,39)(75.9,14)(86.9,5)(97,0)};
\addplot[dens] coordinates {(0,1)(6,2)(12,4)(18,8)(24,14)(30,24)(36,35)(42,42)(47,47)(51,58)(55,78)(58,88)(61,84)(64,68)(68,46)(72,30)(76,20)(82,12)(88,7)(94,3)(99,1)};
\addplot[rug] table[header=false,row sep=\\,x index=0,y expr=-2]{4\\7\\10\\12\\15\\18\\21\\24\\27\\30\\32\\34\\36\\38\\40\\42\\44\\46\\48\\50\\52\\54\\56\\58\\60\\62\\64\\66\\68\\70\\72\\74\\76\\78\\80\\83\\86\\90\\95\\};
}
\diag{4}{
\addplot[hbar] coordinates {(47.5,97)(49,25)(50.5,8)(52,3)(55,1)(60,0)};
\addplot[dens] coordinates {(1,1.5)(44,1.5)(46.5,3)(47.5,25)(48.3,66)(49,42)(50,12)(52,5)(56,2.5)(62,1.5)(99,1.5)};
\addplot[rug] table[header=false,row sep=\\,x index=0,y expr=-2]{4\\47.6\\47.9\\48.2\\48.5\\48.8\\49.1\\49.4\\49.7\\50\\50.5\\51\\51.5\\52\\53\\54\\56\\58\\61\\77\\97\\};
}
\diag{5}{
\addplot[hbar] coordinates {(67.8,3)(71,8)(74.5,20)(78,40)(81.2,67)(84.5,97)(86.6,63)(89.3,25)(92.5,5)(96,0)};
\addplot[dens] coordinates {(1,1.5)(60,1.5)(66,2)(70,5)(74,14)(78,32)(81,55)(83.5,72)(85.5,74)(87.5,58)(90,28)(92.5,8)(95,2.5)(99,1)};
\addplot[rug] table[header=false,row sep=\\,x index=0,y expr=-2]{4\\68\\70\\72\\74\\75.5\\77\\78.5\\80\\81\\82\\83\\84\\85\\86\\87\\88\\89\\90\\91.5\\93\\95\\};
}
\diag{6}{
\addplot[hbar] coordinates {(2.2,6)(10.3,1)(19.2,12)(27.8,23)(36.5,27)(44.9,47)(53.5,47)(62.2,95)(70.5,42)(78.6,24)(87.3,1)(95.4,0)};
\addplot[dens] coordinates {(0,3)(4,5)(8,5)(12,4)(16,7)(20,12)(25,20)(30,25)(35,28)(40,34)(45,41)(50,48)(55,56)(58,72)(61,84)(64,84)(67,68)(70,50)(73,36)(77,25)(81,15)(85,6)(90,2)(99,0.5)};
\addplot[rug] table[header=false,row sep=\\,x index=0,y expr=-2]{6\\9\\14\\19\\22\\25\\28\\31\\34\\37\\40\\42\\44\\46\\48\\50\\52\\54\\56\\58\\60\\62\\64\\66\\68\\70\\72\\74\\76\\78\\80\\82\\85\\90\\};
}
\diag{7}{
\addplot[hbar] coordinates {(46.8,5)(52.2,25)(57.6,75)(61.6,96)(67,72)(72.4,66)(77.8,62)(83.2,30)(88.6,8)(94,2)(99,0)};
\addplot[dens] coordinates {(0,1)(3,2.5)(6,1)(42,1)(45,2)(48,6)(52,18)(55,42)(58,75)(61,93)(64,88)(68,74)(72,67)(76,61)(80,48)(84,28)(88,12)(92,4)(96,1.5)(99,0.5)};
\addplot[rug] table[header=false,row sep=\\,x index=0,y expr=-2]{3\\48\\50\\52\\54\\56\\58\\60\\62\\64\\66\\68\\70\\72\\74\\76\\78\\80\\82\\84\\86\\88\\90\\93\\};
}
\diag{8}{
\addplot[hbar] coordinates {(2,4)(16.8,8)(23.5,16)(30.3,24)(37,28)(42.4,44)(49.2,98)(57.3,88)(64,14)(72.2,4)(80.3,2)(96.5,0)};
\addplot[dens] coordinates {(0,2)(6,3)(12,4)(18,8)(24,15)(30,22)(36,27)(41,34)(45,46)(49,75)(52,96)(55,96)(58,78)(61,45)(64,20)(68,9)(74,4)(82,2.5)(90,2)(99,1)};
\addplot[rug] table[header=false,row sep=\\,x index=0,y expr=-2]{2\\5\\8\\12\\16\\19\\22\\25\\28\\31\\34\\37\\40\\42\\44\\46\\48\\50\\52\\54\\56\\58\\60\\62\\64\\66\\68\\71\\76\\80\\96\\};
}
\diag{9}{
\addplot[hbar] coordinates {(4.6,3.5)(9.3,6)(13.9,4)(18,2)(22.2,3)(26.3,5)(30.5,8)(34.6,25)(38.8,55)(43.4,65)(47.5,96)(52.7,60)(57.1,78)(61.6,28)(65.8,25)(69.9,20)(74.1,27)(78.6,27)(83.4,10)(87.6,5)(92.7,2)(96.9,0)};
\addplot[dens] coordinates {(0,1)(5,4)(10,6)(15,4)(20,3.5)(25,5)(30,9)(34,20)(38,42)(42,62)(46,76)(49,80)(52,76)(56,62)(60,42)(64,28)(68,23)(72,25)(76,28)(79,27)(83,18)(87,9)(91,4)(95,1.5)(99,0.5)};
\addplot[rug] table[header=false,row sep=\\,x index=0,y expr=-2]{5\\9\\12\\16\\19\\22\\26\\29\\31\\33\\35\\37\\39\\41\\43\\45\\47\\49\\51\\53\\55\\57\\59\\61\\63\\65\\67\\69\\71\\73\\75\\77\\79\\81\\83\\86\\89\\93\\};
}
\diag{10}{
\addplot[hbar] coordinates {(49.1,2)(53,5)(55.8,6)(58.7,4)(62.5,14)(65.3,15)(68.2,30)(70.7,97)(72.6,78)(74.5,45)(76.8,30)(79,27)(81.5,23)(84.4,17)(87.2,16)(90.1,10)(93,4)(95.8,0)};
\addplot[dens] coordinates {(0,1.5)(45,1.5)(49,2.5)(53,4.5)(57,6)(61,8)(64,13)(67,24)(69.5,55)(71,80)(72.5,82)(74,62)(76,42)(78,32)(81,25)(84,19)(87,15)(90,10)(93,5)(96,2)(99,1)};
\addplot[rug] table[header=false,row sep=\\,x index=0,y expr=-2]{2\\49\\52\\55\\58\\61\\63\\65\\67\\69\\70\\71\\72\\73\\74\\75\\76\\77\\78\\80\\82\\84\\86\\88\\90\\92\\95\\};
}
\diag{11}{
\addplot[hbar] coordinates {(3.4,23)(6.3,0)};
\addplot[hbar] coordinates {(68,3)(71.9,10)(74.7,20)(77.2,40)(79.5,60)(81.4,88)(83.3,98)(85.2,80)(87.5,62)(89.9,45)(92.4,20)(94.7,5)(97,0)};
\addplot[dens] coordinates {(0,2)(2,9)(3.5,20)(5,19)(6.5,5)(8,1.5)(66,1.5)(70,3)(74,10)(77,22)(80,50)(82,78)(84,93)(86,85)(88,66)(90,46)(92,26)(94,9)(96,2.5)(99,1)};
\addplot[rug] table[header=false,row sep=\\,x index=0,y expr=-2]{4\\68\\70\\72\\74\\76\\77\\78\\79\\80\\81\\82\\83\\84\\85\\86\\87\\88\\89\\90\\91\\92\\94\\96\\};
}
\diag{12}{
\addplot[hbar] coordinates {(2.9,20)(5.7,0)};
\addplot[hbar] coordinates {(66.9,4)(69.8,10)(72.7,22)(75.5,45)(78.4,80)(81.3,97)(83.7,70)(86,55)(88.9,47)(91.8,18)(94.6,3)(97.5,0)};
\addplot[dens] coordinates {(0,2)(1.5,9)(3.5,20)(5,16)(6.5,4)(8,1.5)(64,1.5)(68,4)(72,12)(76,35)(79,68)(81.5,88)(83.5,80)(85.5,62)(88,48)(90.5,34)(92.5,17)(95,5)(98,1)};
\addplot[rug] table[header=false,row sep=\\,x index=0,y expr=-2]{4\\67\\69\\71\\73\\75\\77\\78\\79\\80\\81\\82\\83\\84\\85\\86\\87\\88\\89\\90\\91\\92\\93\\95\\};
}
\end{tikzpicture}
\end{document}
